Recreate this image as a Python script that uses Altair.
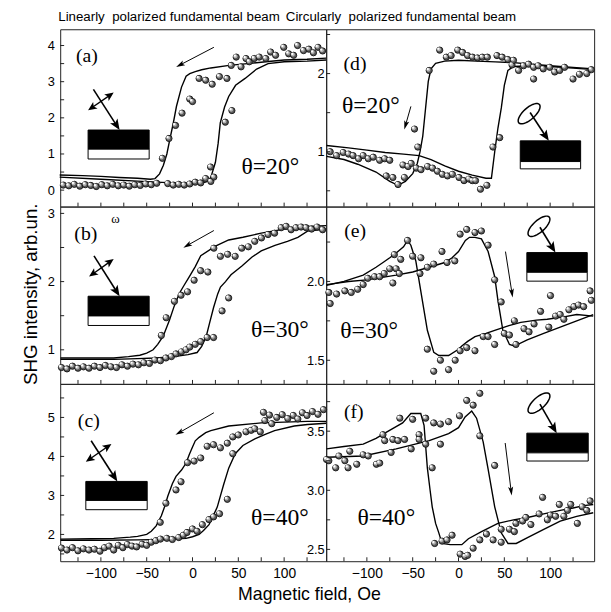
import math
import altair as alt
import pandas as pd

# ---------------- data ----------------
x_labels = [-100, -50, 0, 50, 100]
x_ticks = [-125, -100, -75, -50, -25, 0, 25, 50, 75, 100, 125]

# (a) linear, theta = 20
a_points = [(-141, 0.14), (-135, 0.12), (-129, 0.16), (-123, 0.11), (-117, 0.15), (-111, 0.13), (-105, 0.10),
            (-99, 0.15), (-93, 0.12), (-87, 0.16), (-81, 0.12), (-75, 0.14), (-69, 0.11), (-63, 0.15), (-57, 0.13),
            (-51, 0.17), (-45, 0.15), (-39, 0.19), (-27, 0.18), (-21, 0.14), (-15, 0.16), (-9, 0.14),
            (-3, 0.17), (3, 0.22), (9, 0.20), (14.4, 0.32), (20, 0.24), (23.3, 0.36), (19.7, 0.64),
            (-32.9, 0.88), (-25.7, 1.43), (-18.5, 1.79), (-11.4, 2.13), (-3, 2.52), (0, 2.45), (7.2, 3.09),
            (14.4, 3.04), (21.5, 2.93), (29.4, 3.14), (37.6, 3.09), (35.8, 1.88), (43, 2.2),
            (42.3, 3.45), (47.7, 3.68), (53, 3.41), (58.4, 3.64), (62, 3.55), (67.4, 3.64), (72.8, 3.68),
            (80, 3.64), (85.3, 3.82), (90.7, 3.73), (99.6, 3.95), (105, 3.77), (110.4, 3.73), (114.7, 4.0),
            (121.2, 3.86), (127, 3.9), (132, 3.8), (137, 3.95), (142, 3.85)]
a_down_x = [146, 125, 100, 80, 60, 40, 20, 10, 3, -3, -7, -12, -17.5, -21, -24.7, -28, -31.9, -36, -40.9,
            -46, -60, -80, -100, -120, -145]
a_down_y = [3.65, 3.62, 3.6, 3.55, 3.5, 3.45, 3.38, 3.33, 3.28, 3.22, 3.15, 2.85, 2.32, 1.85, 1.41, 1.0, 0.68,
            0.45, 0.32, 0.3, 0.33, 0.35, 0.38, 0.40, 0.42]
a_up_x = [-145, -100, -60, -40, -20, 0, 10, 15, 20, 25, 28, 30.3, 35, 39.5, 47, 57.4, 70, 82.5, 100, 125, 146]
a_up_y = [0.36, 0.3, 0.25, 0.22, 0.2, 0.18, 0.2, 0.23, 0.35, 0.77, 1.3, 1.86, 2.3, 2.59, 2.9, 3.09, 3.35, 3.5,
          3.55, 3.57, 3.6]

# (b) linear, theta = 30
b_points = [(-143, 0.74), (-137, 0.72), (-131, 0.76), (-125, 0.73), (-119, 0.75), (-113, 0.73), (-107, 0.76),
            (-101, 0.74), (-95, 0.77), (-89, 0.75), (-83, 0.74), (-77, 0.78), (-71, 0.76), (-65, 0.79),
            (-59, 0.78), (-53, 0.81), (-47, 0.80), (-41, 0.85), (-35, 0.84), (-29, 0.88), (-23, 0.90),
            (-18, 0.94), (-12, 0.97), (-7, 1.0), (-3, 1.04), (3, 1.08), (9, 1.12), (16, 1.18), (23, 1.18),
            (-34, 1.21), (-28.7, 1.47), (-19.7, 1.71), (-12.5, 1.80), (-5.4, 1.85), (1.8, 2.02), (8.9, 2.16),
            (16.8, 2.14), (23.3, 2.49), (30.5, 2.37), (38.4, 2.40), (46.6, 2.37), (32.3, 1.57), (39.5, 1.76),
            (53.8, 2.49), (61, 2.51), (68, 2.59), (75.3, 2.64), (82.5, 2.69), (89.6, 2.71), (96.8, 2.79),
            (102.2, 2.81), (107.6, 2.76), (113, 2.79), (118.5, 2.80), (124, 2.79), (130, 2.77), (136, 2.80),
            (142, 2.76)]
b_down_x = [146, 125, 100, 75, 55, 39.5, 25, 9, 3, -3.6, -9, -14.3, -20, -25, -32, -38, -43, -50, -57.5, -70,
            -86, -110, -144]
b_down_y = [2.82, 2.81, 2.77, 2.71, 2.65, 2.61, 2.52, 2.38, 2.22, 2.07, 1.95, 1.83, 1.64, 1.44, 1.2, 1.08, 1.0,
            0.95, 0.92, 0.9, 0.88, 0.88, 0.88]
b_up_x = [-144, -120, -86, -60, -40, -20, -5, 5, 10, 15, 18.6, 23, 27.5, 30.5, 36, 42, 53.9, 65, 75, 90, 103.6,
          115, 125.5, 146]
b_up_y = [0.86, 0.86, 0.86, 0.87, 0.88, 0.9, 0.93, 0.96, 1.05, 1.2, 1.39, 1.62, 1.82, 1.92, 2.0, 2.1, 2.23, 2.36,
          2.45, 2.53, 2.59, 2.65, 2.74, 2.77]

# (c) linear, theta = 40
c_points = [(-143, 1.65), (-137, 1.60), (-131, 1.66), (-125, 1.58), (-119, 1.63), (-113, 1.60), (-107, 1.62),
            (-101, 1.57), (-96, 1.66), (-91, 1.70), (-86, 1.60), (-81, 1.72), (-76, 1.66), (-71, 1.74),
            (-66, 1.70), (-61, 1.68), (-55, 1.75), (-50, 1.72), (-45, 1.80), (-40, 1.84), (-35, 1.88),
            (-28, 1.90), (-22, 1.87), (-15, 1.92), (-10, 1.98), (-6, 2.05), (0, 2.14), (5, 2.08), (10.8, 2.25),
            (18, 2.38), (23, 2.45), (29.5, 2.53), (38, 2.9), (44, 4.07),
            (-35.2, 2.31), (-29, 2.8), (-18, 3.14), (-12.5, 3.35), (-5.4, 3.84), (1.8, 3.88), (9, 3.96),
            (16, 4.26), (23, 4.3), (30.5, 4.22), (38, 4.34), (44, 4.5), (50, 4.55), (58.4, 4.63), (64, 4.67),
            (68, 4.71), (74, 4.63), (79, 4.92), (86.5, 4.84), (77.5, 5.13), (84, 5.06), (92, 5.0), (98, 5.07),
            (104, 4.97), (110, 5.05), (115, 4.96), (120, 5.12), (125, 5.05), (131, 5.15), (137, 5.08),
            (143, 5.2)]
c_down_x = [146, 125.5, 100, 75, 39.5, 20, 14.4, 7.2, 3, 0, -3.5, -7, -12, -18, -22, -27, -30, -34, -39.7, -45,
            -50, -60, -68, -86, -110, -144]
c_down_y = [4.9, 4.9, 4.88, 4.86, 4.78, 4.66, 4.61, 4.49, 4.4, 4.24, 4.05, 3.83, 3.65, 3.49, 3.3, 2.98, 2.74,
            2.48, 2.22, 2.08, 2.0, 1.95, 1.93, 1.9, 1.89, 1.88]
c_up_x = [-144, -100, -60, -32, -7, 0, 7.2, 12, 18, 22, 27, 30, 34, 39.5, 46.6, 55, 68, 80, 89.6, 111, 125.5, 146]
c_up_y = [1.85, 1.85, 1.86, 1.87, 1.9, 1.94, 2.0, 2.1, 2.25, 2.45, 2.7, 2.95, 3.28, 3.7, 4.07, 4.28, 4.45, 4.57,
          4.66, 4.78, 4.82, 4.85]

# (d) circular, theta = 20
d_points = [(-20.5, 2.30), (-13.3, 2.21), (-8, 2.23), (-0.8, 2.30), (4.5, 2.27), (9.9, 2.23), (15.3, 2.21),
            (20.7, 2.20), (26, 2.21), (31.5, 2.21), (42, 2.23), (47.7, 2.21), (53.8, 2.18), (58.4, 2.11),
            (60, 2.17), (65.6, 2.04), (71, 2.10), (76.5, 2.12), (82, 2.08), (82, 1.93), (87, 2.10), (92.5, 2.06),
            (99.6, 2.08), (105, 2.02), (110.4, 2.04), (115.8, 2.08), (125, 1.93), (132, 1.99), (140, 2.0),
            (145, 2.05),
            (-32, 2.04), (-48, 1.29), (-44.4, 1.06), (37.6, 1.06), (45, 1.18),
            (-140, 1.0), (-133, 0.95), (-125.8, 0.99), (-120, 0.97), (-115, 0.95), (-109, 0.91), (-104, 0.95),
            (-98.4, 0.91), (-93, 0.93), (-86, 0.89), (-80.5, 0.91), (-75, 0.89), (-78.8, 0.69), (-71.6, 0.67),
            (-66, 0.58), (-59, 0.67), (-60.6, 0.83), (-55, 0.81), (-51.6, 0.85), (-46, 0.79), (-40.9, 0.77),
            (-33.7, 0.81), (-28.3, 0.79), (-23, 0.75), (-17.6, 0.71), (-12, 0.69), (-6.6, 0.71), (0.6, 0.67),
            (6, 0.63), (11.4, 0.65), (15, 0.63), (18.6, 0.63), (24, 0.52), (31, 0.57)]
d_down_x = [148, 125, 100, 80, 60, 40, 20, 0, -15, -25, -30, -33, -36, -39, -42, -45, -50, -58, -66, -75, -90,
            -110, -125, -144]
d_down_y = [2.06, 2.08, 2.10, 2.12, 2.14, 2.15, 2.16, 2.17, 2.16, 2.13, 2.06, 1.9, 1.55, 1.2, 1.0, 0.85, 0.72,
            0.62, 0.57, 0.62, 0.74, 0.84, 0.9, 0.94]
d_up_x = [-144, -120, -100, -80, -60, -43, -30, -15, 0, 15, 30, 35.9, 39.5, 43, 46.7, 50, 53.9, 60, 80, 100, 125,
          148]
d_up_y = [1.08, 1.05, 1.02, 0.99, 0.97, 0.95, 0.9, 0.82, 0.75, 0.7, 0.66, 0.66, 1.0, 1.3, 1.56, 1.85, 2.04,
          2.09, 2.1, 2.09, 2.07, 2.05]

# (e) circular, theta = 30
e_points = [(-141.5, 1.93), (-140, 1.86), (-133, 1.92), (-124, 1.94), (-117, 1.93), (-110, 1.95), (-104, 1.98),
            (-99, 2.02), (-91.5, 2.03), (-86, 2.03), (-81, 2.05), (-75, 2.08), (-71.6, 1.99), (-68, 2.08),
            (-63, 2.14), (-70, 2.17), (-64.6, 2.05), (-55.6, 2.26), (-50, 2.16), (-41, 2.15), (-42, 2.05),
            (-34, 2.09), (-27, 2.11), (-18, 2.19), (-12.5, 2.12), (-4, 2.13), (1.8, 2.30), (9, 2.33),
            (18, 2.31), (25, 2.32), (32.3, 2.23), (39.5, 2.01), (46.6, 1.87), (-34, 1.57), (-19.7, 1.50),
            (-27, 1.43), (-10.8, 1.44), (-3.6, 1.50), (1.8, 1.56), (9, 1.58), (18, 1.56), (27, 1.65),
            (32.3, 1.65), (39.5, 1.60), (50, 1.67), (55.6, 1.66), (62.7, 1.60), (61, 1.75), (71.5, 1.70),
            (77, 1.68), (82.5, 1.73), (89.6, 1.81), (98.6, 1.71), (100.4, 1.91), (106, 1.78), (111, 1.79),
            (115, 1.76), (120.5, 1.82), (126, 1.84), (131, 1.85), (136.6, 1.84), (143.6, 1.94), (145, 1.88)]
e_br1_x = [-144, -125, -104, -90, -82.4, -75, -68, -60, -55.6, -52, -46.6, -41.2, -34, -27, -21.5, -10.8, 0, 3.6,
           10, 18, 30, 39.5, 55, 68, 85, 96.8, 115, 129, 147]
e_br1_y = [1.975, 2.0, 2.04, 2.09, 2.12, 2.15, 2.18, 2.22, 2.26, 2.23, 2.13, 1.94, 1.69, 1.55, 1.53, 1.53, 1.57,
           1.59, 1.62, 1.65, 1.67, 1.69, 1.72, 1.74, 1.755, 1.76, 1.775, 1.79, 1.78]
e_br2_x = [-144, -120, -100, -68, -50, -32, -15, -7, 0, 7.5, 12, 18, 25, 32.3, 39.5, 43, 48.4, 55.6, 61, 75, 93,
           111, 129, 147]
e_br2_y = [1.98, 2.0, 2.01, 2.04, 2.06, 2.09, 2.12, 2.15, 2.19, 2.26, 2.28, 2.28, 2.27, 2.19, 2.03, 1.88, 1.69,
           1.6, 1.59, 1.63, 1.67, 1.71, 1.75, 1.79]

# (f) circular, theta = 40
f_points = [(-144, 3.26), (-141.5, 3.25), (-134, 3.19), (-130.5, 3.29), (-124, 3.25), (-120.5, 3.19),
            (-118.6, 3.33), (-111, 3.22), (-104, 3.30), (-98.5, 3.29), (-89.6, 3.22), (-86, 3.23), (-82.4, 3.47),
            (-80.5, 3.42), (-73.5, 3.32), (-71.6, 3.43), (-66, 3.42), (-64, 3.61), (-58.8, 3.43), (-51.6, 3.35),
            (-50, 3.60), (-43, 3.47), (-43, 3.43), (-35.8, 3.61), (-35.8, 3.39), (-28.7, 3.19), (-27, 3.57),
            (-19.7, 3.56), (-19.7, 3.39), (-10.8, 3.58), (1.1, 3.63), (9, 3.76), (16, 3.72), (23.3, 3.82),
            (23.3, 3.46), (39.5, 3.21), (-26, 2.55), (-18, 2.57), (-12.5, 2.58), (-7, 2.62), (1.8, 2.46),
            (7.2, 2.44), (10, 2.45), (16, 2.51), (23.3, 2.58), (30.5, 2.63), (37.8, 2.58), (46.6, 2.56),
            (46.6, 2.67), (55.6, 2.67), (61, 2.65), (62.7, 2.72), (70, 2.74), (73.5, 2.77), (79, 2.71),
            (88, 2.80), (91.8, 2.94), (97, 2.75), (100.4, 2.79), (106, 2.78), (110, 2.88), (115, 2.78),
            (119, 2.83), (122.5, 2.88), (129.7, 2.72), (135, 2.86), (140, 2.83), (143.6, 2.91)]
f_br1_x = [-144, -125, -104, -90, -79, -70, -61, -52, -41.2, -37.6, -34, -31, -28.7, -25, -21.5, -18, -9, 3.6,
           10.8, 25.1, 43, 60, 75.3, 93, 111, 125, 136.6, 147]
f_br1_y = [3.35, 3.37, 3.39, 3.44, 3.49, 3.53, 3.57, 3.65, 3.65, 3.55, 3.19, 3.0, 2.86, 2.72, 2.64, 2.55, 2.54,
           2.54, 2.59, 2.65, 2.72, 2.75, 2.77, 2.8, 2.83, 2.85, 2.87, 2.88]
f_br2_x = [-144, -104, -68, -32, -10.8, 0, 7.2, 14.4, 19.7, 26.9, 32.3, 39.5, 46.6, 54, 63, 75.3, 93, 111, 129,
           147]
f_br2_y = [3.28, 3.29, 3.35, 3.42, 3.48, 3.53, 3.62, 3.67, 3.61, 3.41, 3.18, 2.86, 2.64, 2.55, 2.55, 2.6, 2.67,
           2.74, 2.78, 2.81]

# ---------------- styling helpers ----------------
SANS = "Liberation Sans"
SERIF = "Liberation Serif"
FRAME = "#222222"
ONE = pd.DataFrame({"k": [0]})


def txt(s, x, y, size, font, align="center", angle=0):
    return alt.Chart(ONE).mark_text(text=s, fontSize=size, font=font, align=align, baseline="middle",
                                    angle=angle, color="black").encode(x=alt.value(x), y=alt.value(y))


def box(x1, y1, x2, y2, fill):
    return alt.Chart(ONE).mark_rect(fill=fill, stroke="black", strokeWidth=1).encode(
        x=alt.value(x1), x2=alt.value(x2), y=alt.value(y1), y2=alt.value(y2))


def seg(x1, y1, x2, y2, w):
    return alt.Chart(ONE).mark_rule(color="black", strokeWidth=w).encode(
        x=alt.value(x1), y=alt.value(y1), x2=alt.value(x2), y2=alt.value(y2))


def head(xt, yt, ux, uy, hl, hw):
    ang = math.degrees(math.atan2(ux, -uy)) % 360
    w = 2 * hw / hl
    path = f"M 0 -1 L {w:.3f} 1 L 0 0.55 L {-w:.3f} 1 Z"
    cx, cy = xt - ux * hl / 2, yt - uy * hl / 2
    return alt.Chart(ONE).mark_point(shape=path, filled=True, fill="black", strokeWidth=0, size=hl * hl,
                                     angle=ang, opacity=1).encode(x=alt.value(cx), y=alt.value(cy))


def arrow(x1, y1, x2, y2, w=1.6, hl=11, hw=4.5):
    L = math.hypot(x2 - x1, y2 - y1)
    ux, uy = (x2 - x1) / L, (y2 - y1) / L
    return [seg(x1, y1, x2 - ux * hl * 0.6, y2 - uy * hl * 0.6, w), head(x2, y2, ux, uy, hl, hw)]


def darrow(x1, y1, x2, y2, w=1.4, hl=9, hw=4):
    L = math.hypot(x2 - x1, y2 - y1)
    ux, uy = (x2 - x1) / L, (y2 - y1) / L
    return [seg(x1 + ux * hl * 0.6, y1 + uy * hl * 0.6, x2 - ux * hl * 0.6, y2 - uy * hl * 0.6, w),
            head(x2, y2, ux, uy, hl, hw), head(x1, y1, -ux, -uy, hl, hw)]


def ellipse(cx, cy, semi=14, ratio=0.42, tilt=-42):
    p = math.radians(tilt)
    pts = []
    for k in range(36):
        t = 2 * math.pi * k / 36
        x, y = math.cos(t), ratio * math.sin(t)
        pts.append((x * math.cos(p) - y * math.sin(p), x * math.sin(p) + y * math.cos(p)))
    path = "M " + " L ".join(f"{a:.3f} {b:.3f}" for a, b in pts) + " Z"
    return alt.Chart(ONE).mark_point(shape=path, filled=False, stroke="black", strokeWidth=1.5,
                                     size=(2 * semi) ** 2, opacity=1).encode(x=alt.value(cx), y=alt.value(cy))


def panel(points, branches, xdom, ydom, ylab, yfmt, yminor, W, H, bottom, col, extras):
    xs = alt.Scale(domain=xdom, nice=False, zero=False)
    ys = alt.Scale(domain=ydom, nice=False, zero=False)
    if bottom:
        xaxis = alt.Axis(values=x_labels, ticks=False, domain=False, grid=False, labelPadding=6, labelFontSize=14,
                         labelFont=SANS, labelColor="black", title=None, labelOverlap=False)
    else:
        xaxis = None
    yaxis = alt.Axis(values=ylab, format=yfmt, ticks=False, domain=False, grid=False,
                     labelPadding=6 if col == 0 else 2, labelFontSize=13, labelFont=SANS, labelColor="black",
                     title=None, labelOverlap=False, orient="left")
    rows = []
    for bi, (bx, by) in enumerate(branches):
        for i, (x, y) in enumerate(zip(bx, by)):
            rows.append({"x": x, "y": y, "b": bi, "i": i})
    ldf = pd.DataFrame(rows)
    pdf = pd.DataFrame(points, columns=["x", "y"])
    X = alt.X("x:Q", scale=xs, axis=xaxis)
    Y = alt.Y("y:Q", scale=ys, axis=yaxis)
    lines = alt.Chart(ldf).mark_line(color="black", strokeWidth=1.4).encode(x=X, y=Y, detail="b:N", order="i:Q")
    dots = alt.Chart(pdf).mark_point(filled=True, fill="#5a5a5a", stroke="#111111", strokeWidth=0.9, size=40,
                                     opacity=1).encode(x=X, y=Y)
    mid = alt.Chart(pdf).mark_point(filled=True, fill="#b4b4b4", strokeWidth=0, size=16, xOffset=-0.8,
                                    yOffset=-0.8, opacity=1).encode(x=X, y=Y)
    shine = alt.Chart(pdf).mark_point(filled=True, fill="white", strokeWidth=0, size=5, xOffset=-1.4,
                                      yOffset=-1.4, opacity=1).encode(x=X, y=Y)
    xt = alt.Chart(pd.DataFrame({"x": x_ticks})).mark_rule(color=FRAME, strokeWidth=1).encode(
        x=X, y=alt.value(H), y2=alt.value(H - 4))
    yt = alt.Chart(pd.DataFrame({"y": yminor})).mark_rule(color=FRAME, strokeWidth=1).encode(
        y=Y, x=alt.value(0), x2=alt.value(4))
    return alt.layer(lines, dots, mid, shine, xt, yt, *extras).properties(width=W, height=H)


LX = [-144.4, 145.9]
RX = [-144.4, 148.0]
WL, WR, H = 270, 272, 180
NB = "\u00a0"

pa = panel(a_points, [(a_down_x, a_down_y), (a_up_x, a_up_y)], LX, [-0.455, 4.45], [0, 1, 2, 3, 4], "d",
           [0, 0.5, 1, 1.5, 2, 2.5, 3, 3.5, 4], WL, H, False, 0,
           [txt("Linearly" + NB + " polarized fundamental beam", -2, -12, 13.5, SANS, align="left"),
            txt("(a)", 27, 27, 20, SERIF), txt("θ=20°", 184, 140, 24, SERIF, align="left"),
            box(28.3, 102.3, 90.3, 121.7, "black"), box(28.3, 121.7, 90.3, 131.7, "white"),
            *arrow(33.7, 61, 60.3, 102.3), *darrow(28.3, 82.3, 54.3, 64.3),
            *arrow(156, 18.3, 117.7, 38.3, w=1, hl=9, hw=2.6)])

pd_ = panel(d_points, [(d_down_x, d_down_y), (d_up_x, d_up_y)], RX, [0.298, 2.567], [1, 2], "d",
            [0.5, 1, 1.5, 2, 2.5], WR, H, False, 1,
            [txt("Circularly" + NB + " polarized fundamental beam", -41, -12, 13.5, SANS, align="left"),
             txt("(d)", 29.3, 35, 20, SERIF), txt("θ=20°", 16, 78.3, 24, SERIF, align="left"),
             box(197, 113.3, 258.3, 134.3, "black"), box(197, 134.3, 258.3, 141.7, "white"),
             ellipse(206, 85.7), *arrow(207, 84.5, 226, 113.3),
             *arrow(86, 78.3, 79.3, 101.7, w=1, hl=9, hw=2.6)])

pb = panel(b_points, [(b_down_x, b_down_y), (b_up_x, b_up_y)], LX, [0.50, 3.10], [1, 2, 3], "d",
           [1, 1.5, 2, 2.5, 3], WL, H, False, 0,
           [txt("(b)", 26, 28, 20, SERIF), txt("ω", 56, 13, 13, SERIF),
            txt("θ=30°", 193.7, 125, 24, SERIF, align="left"),
            box(28.3, 91, 90.3, 111, "black"), box(28.3, 111, 90.3, 120.7, "white"),
            *arrow(34.3, 50, 60.3, 91), *darrow(29.3, 71, 54.3, 53.3),
            *arrow(156, 24.3, 125, 41.7, w=1, hl=9, hw=2.6),
            txt("SHG intensity, arb.un.", -30, 89, 19, SANS, angle=270)])

pe = panel(e_points, [(e_br1_x, e_br1_y), (e_br2_x, e_br2_y)], RX, [1.35, 2.475], [1.5, 2.0], ".1f",
           [1.5, 1.75, 2.0, 2.25], WR, H, False, 1,
           [txt("(e)", 29.3, 25, 20, SERIF), txt("θ=30°", 14.3, 126.7, 24, SERIF, align="left"),
            box(203.7, 46.7, 265, 66.7, "black"), box(203.7, 66.7, 265, 75.7, "white"),
            ellipse(216, 20), *arrow(217, 21, 232.7, 46.7),
            *arrow(182, 45.7, 189.3, 92.3, w=1, hl=9, hw=2.6)])

pc = panel(c_points, [(c_down_x, c_down_y), (c_up_x, c_up_y)], LX, [1.313, 5.86], [2, 3, 4, 5], "d",
           [1.5, 2, 2.5, 3, 3.5, 4, 4.5, 5, 5.5], WL, H, True, 0,
           [txt("(c)", 29, 38, 20, SERIF), txt("θ=40°", 193.7, 136.7, 24, SERIF, align="left"),
            box(26, 99, 88.3, 118.3, "black"), box(26, 118.3, 88.3, 127.7, "white"),
            *arrow(31.4, 57.7, 58, 99), *darrow(26, 79, 52, 61),
            *arrow(156, 29.3, 117, 51.7, w=1, hl=9, hw=2.6),
            txt("Magnetic field, Oe", 253, 214, 18, SANS)])

pf = panel(f_points, [(f_br1_x, f_br1_y), (f_br2_x, f_br2_y)], RX, [2.40, 3.90], [2.5, 3.0, 3.5], ".1f",
           [2.5, 2.75, 3.0, 3.25, 3.5, 3.75], WR, H, True, 1,
           [txt("(f)", 28, 28.3, 20, SERIF), txt("θ=40°", 31.7, 136.7, 24, SERIF, align="left"),
            box(203.7, 50, 266, 70, "black"), box(203.7, 70, 266, 78.3, "white"),
            ellipse(216, 19.5), *arrow(217, 20.5, 234, 50),
            *arrow(181.7, 60, 188.3, 113.3, w=1, hl=9, hw=2.6)])

chart = alt.concat(pa, pd_, pb, pe, pc, pf, columns=2, spacing=0, bounds="flush").resolve_scale(
    x="independent", y="independent").configure_view(stroke=FRAME, strokeWidth=1).properties(
    padding={"left": 13, "top": -3, "right": 5, "bottom": 5})

chart.save("out.html", embed_options={"renderer": "svg", "actions": False})
